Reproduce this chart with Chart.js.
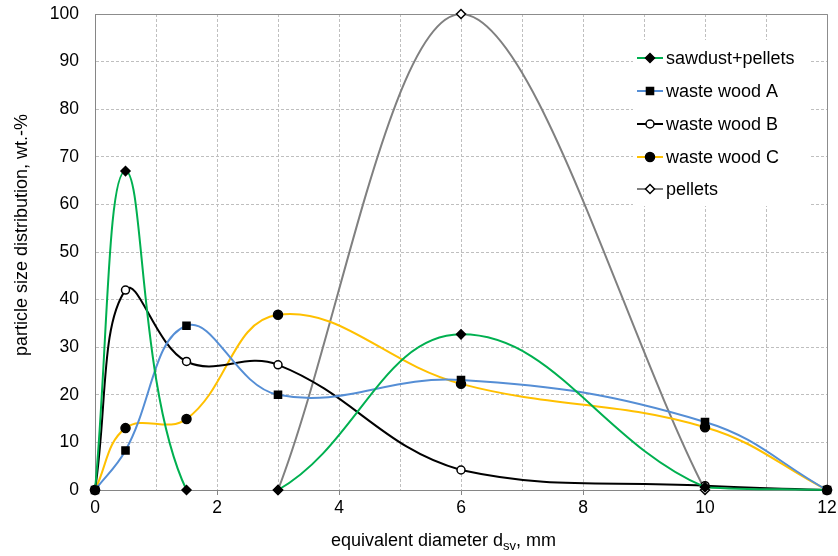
<!DOCTYPE html>
<html lang="en">
<head>
<meta charset="UTF-8">
<title>Particle size distribution</title>
<script src="https://cdn.jsdelivr.net/npm/chart.js"></script>
<style>
    body { margin: 0; background: #fff; }
    .chart-box { width: 838px; height: 556px; position: relative; }
</style>
</head>
<body>
<div class="chart-box">
    <canvas id="psdChart"></canvas>
</div>
<script>
    // data
    const diameters = [0, 0.5, 1.5, 3, 6, 10, 12];
    const sawdustPellets = [0, 67, 0, 0, 32.7, 0.6, 0];
    const wasteWoodA = [0, 8.3, 34.5, 20, 23.1, 14.3, 0];
    const wasteWoodB = [0, 42, 27, 26.3, 4.2, 0.9, 0];
    const wasteWoodC = [0, 13, 14.9, 36.8, 22.3, 13.2, 0];
    const pelletDiameters = [3, 6, 10];
    const pellets = [0, 100, 0];
    const seriesNames = ['sawdust+pellets', 'waste wood A', 'waste wood B', 'waste wood C', 'pellets'];

    const FONT = '"Liberation Sans", Arial, sans-serif';

    function toPoints(xs, ys) {
        return xs.map((x, i) => ({ x: x, y: ys[i] }));
    }

    function makeSet(label, xs, ys, color, style, radius, fill, stroke) {
        return {
            label: label,
            data: toPoints(xs, ys),
            borderColor: color,
            borderWidth: 2,
            tension: 0.4,
            fill: false,
            clip: false,
            pointStyle: style,
            pointRadius: radius,
            pointHoverRadius: radius,
            pointBackgroundColor: fill,
            pointBorderColor: stroke,
            pointBorderWidth: 1.5,
            // no line drawn where the series sits flat on zero (hidden by the axis in the original)
            segment: {
                borderColor: (c) => (c.p0.parsed.y === 0 && c.p1.parsed.y === 0 ? 'rgba(0,0,0,0)' : undefined)
            }
        };
    }

    const datasets = [
        makeSet(seriesNames[0], diameters, sawdustPellets, '#00B050', 'rectRot', 4.5, '#000', '#000'),
        makeSet(seriesNames[1], diameters, wasteWoodA, '#558ED5', 'rect', 5, '#000', '#000'),
        makeSet(seriesNames[2], diameters, wasteWoodB, '#000000', 'circle', 4, '#fff', '#000'),
        makeSet(seriesNames[3], diameters, wasteWoodC, '#FFC000', 'circle', 4.5, '#000', '#000'),
        makeSet(seriesNames[4], pelletDiameters, pellets, '#808080', 'rectRot', 4.5, '#fff', '#000')
    ];
    datasets[4].tension = 0.33;

    // small marker painter for the legend
    function drawMarker(ctx, style, x, y, r, fill, stroke) {
        ctx.save();
        ctx.fillStyle = fill;
        ctx.strokeStyle = stroke;
        ctx.lineWidth = 1.5;
        ctx.beginPath();
        if (style === 'circle') {
            ctx.arc(x, y, r, 0, Math.PI * 2);
        } else if (style === 'rect') {
            const s = r * Math.SQRT1_2;
            ctx.rect(x - s, y - s, 2 * s, 2 * s);
        } else {
            ctx.moveTo(x, y - r);
            ctx.lineTo(x + r, y);
            ctx.lineTo(x, y + r);
            ctx.lineTo(x - r, y);
            ctx.closePath();
        }
        ctx.fill();
        ctx.stroke();
        ctx.restore();
    }

    const frame = {
        id: 'frame',
        beforeDatasetsDraw(chart) {
            const ctx = chart.ctx;
            const a = chart.chartArea;
            ctx.save();
            ctx.strokeStyle = '#8C8C8C';
            ctx.lineWidth = 1;
            ctx.beginPath();
            ctx.moveTo(a.left, a.top + 0.5);
            ctx.lineTo(a.right + 0.5, a.top + 0.5);
            ctx.lineTo(a.right + 0.5, a.bottom);
            ctx.stroke();
            ctx.restore();
        }
    };

    const legendAndTitles = {
        id: 'legendAndTitles',
        afterDatasetsDraw(chart) {
            const ctx = chart.ctx;
            const area = chart.chartArea;
            ctx.save();

            // legend box
            ctx.fillStyle = '#fff';
            ctx.fillRect(633, 40, 176, 166);
            ctx.font = '18px ' + FONT;
            ctx.textBaseline = 'middle';
            ctx.textAlign = 'left';
            const rows = [58, 91, 124, 157, 189];
            chart.data.datasets.forEach((ds, i) => {
                const y = rows[i];
                ctx.strokeStyle = ds.borderColor;
                ctx.lineWidth = 2;
                ctx.beginPath();
                ctx.moveTo(637, y);
                ctx.lineTo(663, y);
                ctx.stroke();
                drawMarker(ctx, ds.pointStyle, 650, y, ds.pointRadius, ds.pointBackgroundColor, ds.pointBorderColor);
                ctx.fillStyle = '#000';
                ctx.fillText(ds.label, 666, y + 1);
            });

            // x axis title with subscript
            let x = 331;
            const ty = 546;
            ctx.fillStyle = '#000';
            ctx.textBaseline = 'alphabetic';
            const parts = [['equivalent diameter d', 18, 0], ['sv', 13, 4], [', mm', 18, 0]];
            parts.forEach(([txt, size, dy]) => {
                ctx.font = size + 'px ' + FONT;
                ctx.fillText(txt, x, ty + dy);
                x += ctx.measureText(txt).width;
            });

            // y axis title
            ctx.font = '18px ' + FONT;
            ctx.translate(22, 235);
            ctx.rotate(-Math.PI / 2);
            ctx.textAlign = 'center';
            ctx.textBaseline = 'middle';
            ctx.fillText('particle size distribution, wt.-%', 0, 0);
            ctx.restore();
        }
    };

    const gridColor = '#BFBFBF';
    const axisColor = '#868686';

    new Chart(document.getElementById('psdChart'), {
        type: 'line',
        data: { datasets: datasets },
        plugins: [frame, legendAndTitles],
        options: {
            responsive: true,
            maintainAspectRatio: false,
            animation: false,
            layout: { padding: { top: 14, right: 11, left: 0, bottom: 0 } },
            plugins: {
                legend: { display: false },
                tooltip: { enabled: false }
            },
            scales: {
                x: {
                    type: 'linear',
                    min: 0,
                    max: 12,
                    afterFit: (scale) => {
                        scale.height = 66;
                        scale.paddingLeft = 0;
                        scale.paddingRight = 0;
                    },
                    ticks: {
                        stepSize: 1,
                        autoSkip: false,
                        maxRotation: 0,
                        color: '#000',
                        font: { family: FONT, size: 17.5 },
                        padding: 3,
                        callback: (v) => (v % 2 === 0 ? v : '')
                    },
                    grid: {
                        color: gridColor,
                        tickLength: 5,
                        tickColor: (c) => (c.tick && c.tick.value % 2 === 0 ? axisColor : 'rgba(0,0,0,0)')
                    },
                    border: { color: axisColor, width: 1, dash: [3, 2] }
                },
                y: {
                    min: 0,
                    max: 100,
                    afterFit: (scale) => {
                        scale.width = 95;
                        scale.paddingTop = 0;
                        scale.paddingBottom = 0;
                    },
                    ticks: {
                        stepSize: 10,
                        color: '#000',
                        font: { family: FONT, size: 17.5 },
                        padding: 16
                    },
                    grid: {
                        color: gridColor,
                        drawTicks: false
                    },
                    border: { color: axisColor, width: 1, dash: [3, 2] }
                }
            }
        }
    });
</script>
</body>
</html>
